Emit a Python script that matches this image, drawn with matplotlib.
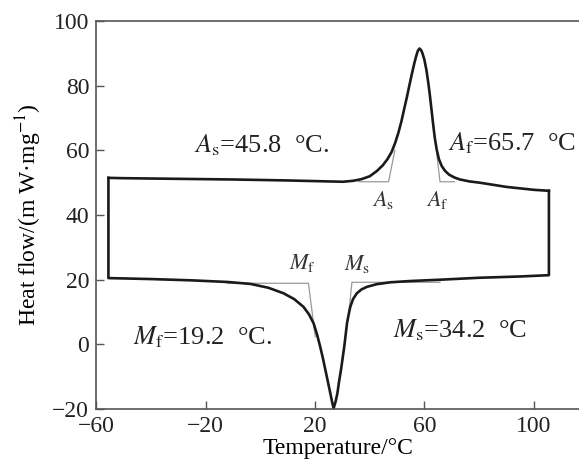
import matplotlib.pyplot as plt

plt.rcParams['font.family'] = ['Liberation Serif', 'DejaVu Serif']
plt.rcParams['mathtext.fontset'] = 'stix'

# heating branch (left to right)
heat_t = [-55.5, -50, -30, -10, 10, 25, 30.3, 34, 37, 40, 42.6, 44.8, 46.5,
          48.0, 49.3, 50.5, 51.6, 52.6, 53.6, 54.6, 55.5, 56.3, 57.0, 57.6, 58.2,
          58.8, 59.3, 60.0, 60.7, 61.4, 62.0, 62.6, 63.2, 63.8, 64.5, 65.3, 66.3,
          67.5, 69.0, 71.0, 73.0, 76.5, 80.3, 90, 100, 105.5]
heat_q = [51.5, 51.4, 51.2, 51.0, 50.7, 50.4, 50.3, 50.6, 51.1, 52.0, 53.6, 55.4,
          57.3, 59.5, 62.3, 65.5, 69.0, 72.8, 76.5, 80.5, 84.0, 86.9, 89.2, 90.8,
          91.5, 91.0, 90.0, 88.0, 85.0, 81.0, 77.0, 72.5, 68.0, 63.8, 60.2, 57.3,
          55.2, 53.7, 52.5, 51.6, 51.0, 50.4, 50.0, 48.7, 47.8, 47.5]

# cooling branch (right to left)
cool_t = [105.5, 105.5, 95, 80, 65.7, 55, 47.5, 42.5, 39.0, 37.0, 35.3, 33.9,
          32.9, 32.3, 31.7, 31.2, 30.7, 30.1, 29.5, 28.8, 28.2, 27.5, 26.8, 26.2,
          25.6, 24.7, 23.8, 22.9, 21.9, 20.8, 19.5, 17.8, 15.8, 12.4, 8.5, 3,
          -3.6, -12, -25, -40, -55.5, -55.5]
cool_q = [47.5, 21.4, 21.0, 20.6, 20.0, 19.6, 19.2, 18.6, 17.8, 17.0, 15.8, 14.0,
          11.6, 9.2, 6.5, 2.9, -0.7, -4.3, -7.9, -11.5, -15.1, -17.8, -19.8, -17.6,
          -15.1, -11.5, -7.9, -4.3, -0.7, 2.9, 6.5, 9.3, 11.6, 14.0, 15.8, 17.5,
          18.7, 19.3, 19.8, 20.2, 20.5, 51.5]

# onset construction lines
as_t, as_q = [36, 46.9, 49.2], [50.3, 50.3, 60]
af_t, af_q = [71, 65.7, 64.5], [50.3, 50.3, 59]
mf_t, mf_q = [-12, 17.6, 20.1], [18.9, 18.9, 2.4]
ms_t, ms_q = [65.7, 33.5, 32.3], [19.2, 19.2, 9]

fig = plt.figure(figsize=(5.79, 4.68), dpi=100)
ax = fig.add_axes([0.166, 0.126, 0.834, 0.829])

for tt, qq in [(as_t, as_q), (af_t, af_q), (mf_t, mf_q), (ms_t, ms_q)]:
    ax.plot(tt, qq, color='#999999', lw=0.9)

ax.plot(heat_t, heat_q, color='#1a1a1a', lw=1.9, solid_joinstyle='round')
ax.plot(cool_t, cool_q, color='#1a1a1a', lw=1.9, solid_joinstyle='round',
        clip_on=False)

ax.set_xlim(-60, 116.5)
ax.set_ylim(-20, 100)
ax.set_xticks([-60, -20, 20, 60, 100])
ax.set_yticks([-20, 0, 20, 40, 60, 80, 100])

for s in ['left', 'bottom', 'top']:
    ax.spines[s].set_color('#555555')
    ax.spines[s].set_linewidth(1.2)
ax.spines['right'].set_visible(False)
ax.tick_params(direction='in', length=6, width=1.0, color='#555555',
               labelsize=17, pad=5, labelcolor='#222222')

ax.set_xlabel('Temperature/°C', fontsize=17, labelpad=1)
ax.set_ylabel('Heat flow/(m W·mg$^{-1}$)', fontsize=17, labelpad=6)

big = dict(fontsize=19, color='#222222', va='center')
ax.text(-24.4, 61.6, r'$A_{\rm s}$=45.8  °C.', **big)
ax.text(68.7, 62.2, r'$A_{\rm f}$=65.7  °C', **big)
ax.text(-46.7, 2.3, r'$M_{\rm f}$=19.2  °C.', **big)
ax.text(48.6, 4.4, r'$M_{\rm s}$=34.2  °C', **big)

small = dict(fontsize=16, color='#333333', ha='center', va='center')
ax.text(45, 44.6, r'$A_{\rm s}$', **small)
ax.text(64.6, 44.6, r'$A_{\rm f}$', **small)
ax.text(15.3, 25.1, r'$M_{\rm f}$', **small)
ax.text(35.4, 25.0, r'$M_{\rm s}$', **small)

fig.savefig('out.png', dpi=100)
